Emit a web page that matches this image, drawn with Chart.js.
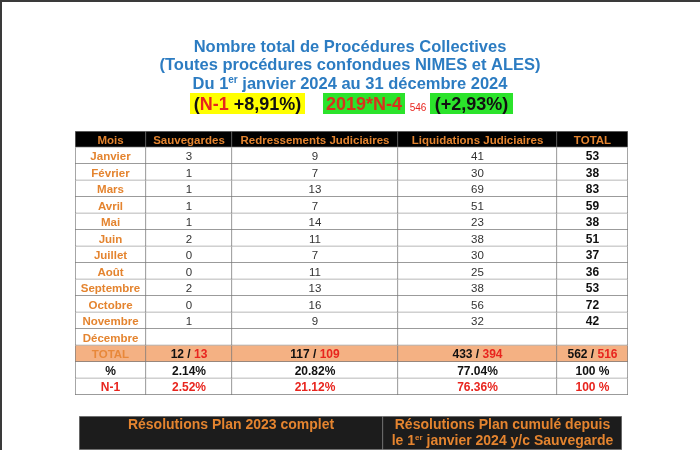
<!DOCTYPE html>
<html>
<head>
<meta charset="utf-8">
<script src="https://cdn.jsdelivr.net/npm/chart.js@4.4.1/dist/chart.umd.min.js"></script>
<style>
  html, body { margin: 0; padding: 0; background: #fff; overflow: hidden; }
  #wrap { position: relative; width: 700px; height: 450px; }
  #main { position: absolute; left: 0; top: 0; }
  #plan { position: absolute; left: 0; top: 410px; }
  .edge { position: absolute; left: 0; top: 0; background: #3a3a3a; }
</style>
</head>
<body>
<div id="wrap">
  <canvas id="main" width="700" height="450"></canvas>
  <canvas id="plan" width="700" height="80"></canvas>
  <div class="edge" style="width:700px;height:2px"></div>
  <div class="edge" style="width:2px;height:450px"></div>
</div>
<script>
// table data
const columns = ['Mois', 'Sauvegardes', 'Redressements Judiciaires', 'Liquidations Judiciaires', 'TOTAL'];
const months = ['Janvier', 'Février', 'Mars', 'Avril', 'Mai', 'Juin', 'Juillet', 'Août', 'Septembre', 'Octobre', 'Novembre', 'Décembre'];
const sauvegardes = [3, 1, 1, 1, 1, 2, 0, 0, 2, 0, 1, null];
const redressements = [9, 7, 13, 7, 14, 11, 7, 11, 13, 16, 9, null];
const liquidations = [41, 30, 69, 51, 23, 38, 30, 25, 38, 56, 32, null];
const totals = [53, 38, 83, 59, 38, 51, 37, 36, 53, 72, 42, null];
const total2024 = [12, 117, 433, 562];
const total2023 = [13, 109, 394, 516];
const part2024 = ['2.14%', '20.82%', '77.04%', '100 %'];
const part2023 = ['2.52%', '21.12%', '76.36%', '100 %'];
const planHeaders = [['Résolutions Plan 2023 complet'], ['Résolutions Plan cumulé depuis', 'le 1er janvier 2024 y/c Sauvegarde']];

const rowLabels = ['Mois'].concat(months, ['TOTAL', '%', 'N-1']);
const colWidths = [71, 86, 166, 159, 71];
const planWidths = [304, 239];

const FONT = "'Liberation Sans', Arial, sans-serif";
const ORANGE = '#E4842F';
const RED = '#E8251E';
const BLUE = '#2C7CC2';

function f(size, bold) { return (bold ? 'bold ' : '') + size + 'px ' + FONT; }

// draws a list of coloured text runs centred on cx, baseline y
function drawRuns(ctx, runs, cx, y) {
  let w = 0;
  runs.forEach(r => { ctx.font = r.font; w += ctx.measureText(r.t).width; });
  let x = cx - w / 2;
  ctx.textAlign = 'left';
  ctx.textBaseline = 'alphabetic';
  runs.forEach(r => {
    ctx.font = r.font;
    ctx.fillStyle = r.color;
    ctx.fillText(r.t, x, y + (r.dy || 0));
    x += ctx.measureText(r.t).width;
  });
}

// split "1er" into a superscript
function withSup(text, size, color) {
  const i = text.indexOf('1er');
  if (i < 0) return [{ t: text, font: f(size, true), color }];
  return [
    { t: text.slice(0, i + 1), font: f(size, true), color },
    { t: 'er', font: f(Math.round(size * 0.6), true), color, dy: -size * 0.35 },
    { t: text.slice(i + 3), font: f(size, true), color }
  ];
}

function cellRuns(row, col) {
  const n = months.length;
  if (row === 0) return [{ t: columns[col], font: f(11.5, true), color: ORANGE }];
  if (row <= n) {
    const m = row - 1;
    if (col === 0) return [{ t: months[m], font: f(11.5, true), color: ORANGE }];
    const v = [sauvegardes, redressements, liquidations, totals][col - 1][m];
    if (v === null) return [];
    return [{ t: String(v), font: f(col === 4 ? 12 : 11.5, col === 4), color: col === 4 ? '#111' : '#333' }];
  }
  if (row === n + 1) {
    if (col === 0) return [{ t: 'TOTAL', font: f(11.5, true), color: '#E8883A' }];
    return [
      { t: total2024[col - 1] + ' / ', font: f(12, true), color: '#111' },
      { t: String(total2023[col - 1]), font: f(12, true), color: RED }
    ];
  }
  if (row === n + 2) {
    return [{ t: col === 0 ? '%' : part2024[col - 1], font: f(12, true), color: '#111' }];
  }
  return [{ t: col === 0 ? 'N-1' : part2023[col - 1], font: f(12, true), color: RED }];
}

const cellText = {
  id: 'cellText',
  afterDatasetsDraw(chart) {
    const ctx = chart.ctx;
    chart.data.datasets.forEach((ds, ci) => {
      chart.getDatasetMeta(ci).data.forEach((el, ri) => {
        drawRuns(ctx, cellRuns(ri, ci), (el.x + el.base) / 2, el.y + 4.5);
      });
    });
  }
};

const heading = {
  id: 'heading',
  beforeDraw(chart) {
    const ctx = chart.ctx;
    const cx = 350;
    drawRuns(ctx, [{ t: 'Nombre total de Procédures Collectives', font: f(16.5, true), color: BLUE }], cx, 52);
    drawRuns(ctx, [{ t: '(Toutes procédures confondues NIMES et ALES)', font: f(16.5, true), color: BLUE }], cx, 70);
    drawRuns(ctx, withSup('Du 1er janvier 2024 au 31 décembre 2024', 16.5, BLUE), cx, 89);

    ctx.fillStyle = '#FFFF00';
    ctx.fillRect(190, 93, 115, 21);
    ctx.fillStyle = '#2BE32B';
    ctx.fillRect(323, 93, 82, 21);
    ctx.fillRect(430, 93, 83, 21);
    drawRuns(ctx, [
      { t: '(', font: f(18, true), color: '#111' },
      { t: 'N-1', font: f(18, true), color: RED },
      { t: ' +8,91%)', font: f(18, true), color: '#111' }
    ], 247.5, 110);
    drawRuns(ctx, [{ t: '2019*N-4', font: f(18, true), color: '#D8321C' }], 364, 110);
    drawRuns(ctx, [{ t: '546', font: f(10, false), color: RED }], 418, 111);
    drawRuns(ctx, [{ t: '(+2,93%)', font: f(18, true), color: '#111' }], 471.5, 110);
  }
};

new Chart(document.getElementById('main'), {
  type: 'bar',
  data: {
    labels: rowLabels,
    datasets: columns.map((name, ci) => ({
      label: name,
      data: rowLabels.map(() => colWidths[ci]),
      backgroundColor: c => c.dataIndex === 0 ? '#000' : (c.dataIndex === months.length + 1 ? '#F4B183' : '#fff'),
      borderColor: '#7a7a7a',
      borderWidth: c => ({ top: c.dataIndex === 0 ? 1 : 0, right: 1, bottom: 1, left: ci === 0 ? 1 : 0 }),
      borderSkipped: false,
      barPercentage: 1,
      categoryPercentage: 1
    }))
  },
  options: {
    indexAxis: 'y',
    responsive: false,
    animation: false,
    layout: { padding: { left: 75, right: 72, top: 131, bottom: 55 } },
    scales: {
      x: { stacked: true, display: false, min: 0, max: colWidths.reduce((a, b) => a + b, 0) },
      y: { stacked: true, display: false }
    },
    plugins: { legend: { display: false }, tooltip: { enabled: false } }
  },
  plugins: [heading, cellText]
});

const planText = {
  id: 'planText',
  afterDatasetsDraw(chart) {
    const ctx = chart.ctx;
    chart.data.datasets.forEach((ds, ci) => {
      const el = chart.getDatasetMeta(ci).data[0];
      const top = el.y - el.height / 2;
      planHeaders[ci].forEach((line, li) => {
        drawRuns(ctx, withSup(line, 14, ORANGE), (el.x + el.base) / 2, top + 13 + li * 16);
      });
    });
  }
};

new Chart(document.getElementById('plan'), {
  type: 'bar',
  data: {
    labels: ['Résolutions', ''],
    datasets: planHeaders.map((h, ci) => ({
      label: h[0],
      data: [planWidths[ci], planWidths[ci]],
      backgroundColor: c => c.dataIndex === 0 ? '#1c1c1c' : '#fff',
      borderColor: '#8c8c8c',
      borderWidth: c => ({ top: c.dataIndex === 0 ? 1 : 0, right: 1, bottom: 1, left: ci === 0 ? 1 : 0 }),
      borderSkipped: false,
      barPercentage: 1,
      categoryPercentage: 1
    }))
  },
  options: {
    indexAxis: 'y',
    responsive: false,
    animation: false,
    layout: { padding: { left: 79, right: 78, top: 6, bottom: 6 } },
    scales: {
      x: { stacked: true, display: false, min: 0, max: planWidths[0] + planWidths[1] },
      y: { stacked: true, display: false }
    },
    plugins: { legend: { display: false }, tooltip: { enabled: false } }
  },
  plugins: [planText]
});
</script>
</body>
</html>
